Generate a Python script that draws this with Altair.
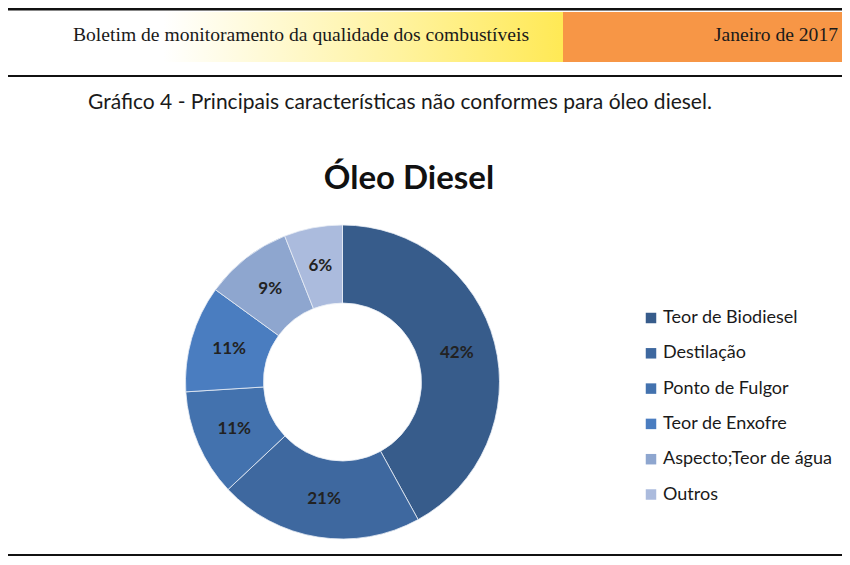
import altair as alt
import pandas as pd

# ---- data ----
categories = ["Teor de Biodiesel", "Destilação", "Ponto de Fulgor",
              "Teor de Enxofre", "Aspecto;Teor de água", "Outros"]
values = [42, 21, 11, 11, 9, 6]
colors = ["#375C8B", "#3E689F", "#4372AE", "#4A7DC0", "#8EA6CF", "#ABBBDD"]

header_left = "Boletim de monitoramento da qualidade dos combustíveis"
header_right = "Janeiro de 2017"
caption = "Gráfico 4 - Principais características não conformes para óleo diesel."
chart_title = "Óleo Diesel"

df = pd.DataFrame({
    "cat": categories,
    "val": values,
    "ord": list(range(len(categories))),
    "label": [f"{v}%" for v in values],
})

W, H = 834, 549
CX, CY = 334.5, 374
one = pd.DataFrame({"k": [0]})

# ---- page decorations ----
band_grad = alt.Chart(one).mark_rect(
    fill={"gradient": "linear", "x1": 0, "y1": 0, "x2": 1, "y2": 0,
          "stops": [{"offset": 0, "color": "#ffffff"},
                    {"offset": 0.28, "color": "#ffffff"},
                    {"offset": 0.7, "color": "#FFF3A0"},
                    {"offset": 1, "color": "#FFE955"}]}
).encode(x=alt.value(0), x2=alt.value(555), y=alt.value(4), y2=alt.value(54))

band_orange = alt.Chart(one).mark_rect(color="#F79646").encode(
    x=alt.value(555), x2=alt.value(W), y=alt.value(4), y2=alt.value(54))

rule_top = alt.Chart(one).mark_rule(color="#111111", strokeWidth=3).encode(
    x=alt.value(0), x2=alt.value(W), y=alt.value(1))
rule_mid = alt.Chart(one).mark_rule(color="#111111", strokeWidth=2).encode(
    x=alt.value(0), x2=alt.value(W), y=alt.value(68))
rule_bot = alt.Chart(one).mark_rule(color="#111111", strokeWidth=2).encode(
    x=alt.value(0), x2=alt.value(W), y=alt.value(547))

txt_hl = alt.Chart(one).mark_text(
    text=header_left, font="Liberation Serif", fontSize=19.6, align="left",
    baseline="middle", color="#1a1a1a").encode(x=alt.value(65), y=alt.value(27))
txt_hr = alt.Chart(one).mark_text(
    text=header_right, font="Liberation Serif", fontSize=19.6, align="right",
    baseline="middle", color="#1a1a1a").encode(x=alt.value(830), y=alt.value(27))
txt_cap = alt.Chart(one).mark_text(
    text=caption, font="Lato", fontSize=21, align="left",
    baseline="middle", color="#1a1a1a").encode(x=alt.value(80), y=alt.value(95))
txt_title = alt.Chart(one).mark_text(
    text=chart_title, font="Lato", fontSize=33, fontWeight="bold", align="center",
    baseline="middle", color="#111111").encode(x=alt.value(401), y=alt.value(171))

# ---- donut ----
base = alt.Chart(df).encode(
    theta=alt.Theta("val:Q", stack=True),
    order=alt.Order("ord:Q"),
)

arcs = base.mark_arc(outerRadius=157, innerRadius=79, stroke="#e8edf5",
                     strokeWidth=0.8).encode(
    x=alt.value(CX), y=alt.value(CY),
    color=alt.Color(
        "cat:N",
        scale=alt.Scale(domain=categories, range=colors),
        sort=categories,
        legend=alt.Legend(
            title=None, orient="none", legendX=634, legendY=301,
            symbolType="square", symbolSize=110, symbolStrokeWidth=0,
            labelFont="Lato", labelFontSize=18, labelColor="#1a1a1a",
            labelLimit=400, rowPadding=17.3, labelOffset=3, padding=0,
        ),
    ),
)

labels = base.mark_text(radius=118, font="Lato", fontSize=17, fontWeight="bold",
                        color="#222222").encode(
    x=alt.value(CX), y=alt.value(CY), text="label:N")

chart = alt.layer(
    band_grad, band_orange, rule_top, rule_mid, rule_bot,
    txt_hl, txt_hr, txt_cap, txt_title, arcs, labels,
).properties(
    width=W, height=H, padding=0, autosize="none", background="white"
).configure_view(stroke=None)

chart.save("out.html", embed_options={"renderer": "svg", "actions": False})
